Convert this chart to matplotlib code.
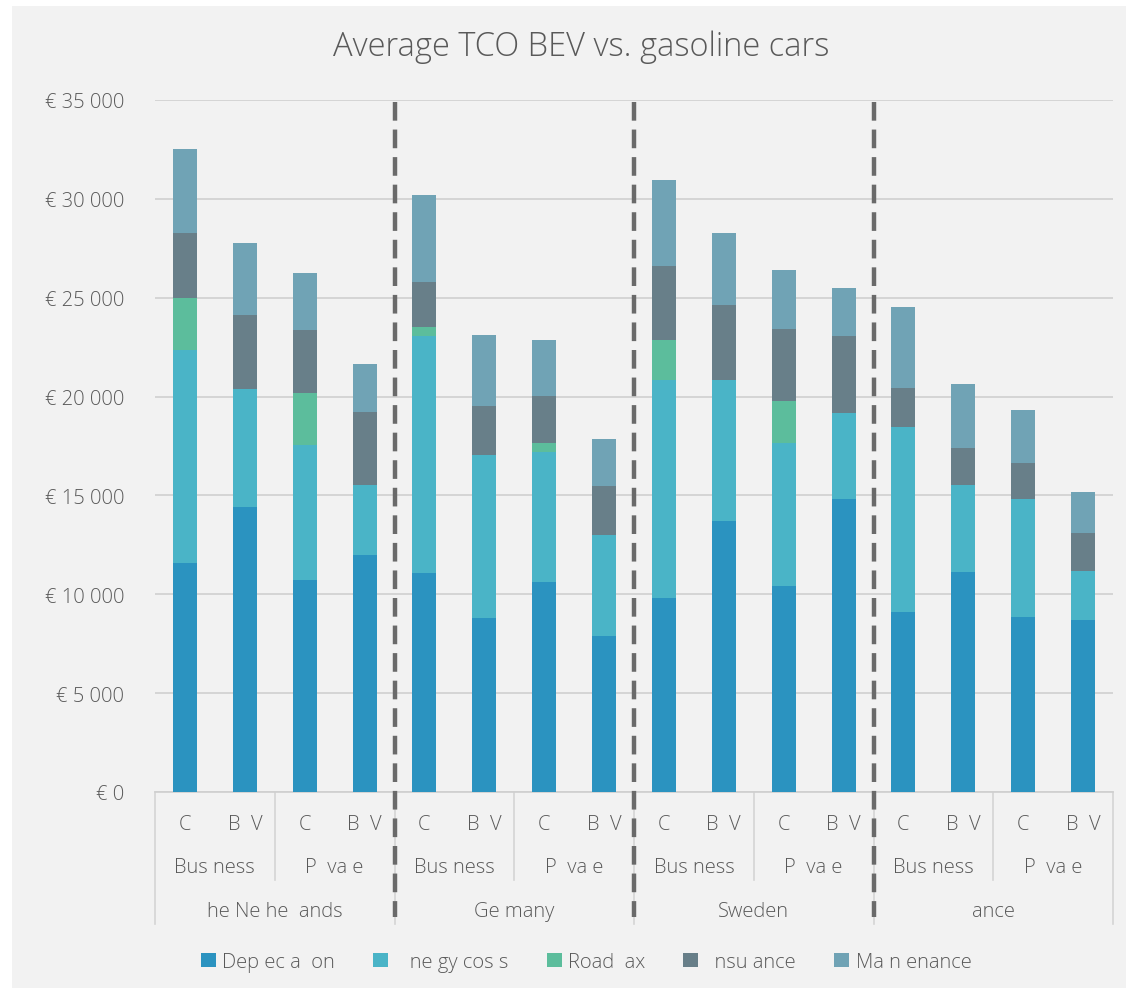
"""Average TCO BEV vs. gasoline cars: stacked bars per country / segment."""

import matplotlib

matplotlib.use("Agg")
import matplotlib.pyplot as plt  # noqa: E402
from matplotlib.patches import Patch, Rectangle  # noqa: E402

plt.rcParams["font.family"] = ["Open Sans", "DejaVu Sans"]
plt.rcParams["font.weight"] = "light"

# labels as they appear in the source picture (glyphs missing there)
countries = ["he Ne he  ands", "Ge many", "Sweden", "ance"]
segments = ["Bus ness", "P  va e"]
car_types = ["C", "B  V"]
components = ["Dep ec a  on", "   ne gy cos s", "Road  ax", "  nsu ance", "Ma n enance"]
colors = ["#2b93c0", "#4ab4c7", "#5cbd9c", "#687f89", "#70a3b5"]

# per bar: NL bus ICE, NL bus BEV, NL priv ICE, NL priv BEV, DE ..., SE ..., FR ...
depreciation = [11590, 14430, 10730, 12000, 11090, 8810, 10630, 7900,
                9820, 13720, 10430, 14840, 9110, 11140, 8860, 8710]
energy = [10790, 5970, 6840, 3540, 11950, 8250, 6590, 5110,
          11040, 7140, 7240, 4350, 9370, 4400, 5980, 2480]
road_tax = [2630, 0, 2630, 0, 500, 0, 450, 0,
            1980, 0, 2130, 0, 0, 0, 0, 0]
insurance = [3240, 3750, 3190, 3700, 2280, 2480, 2380, 2480,
             3740, 3750, 3640, 3850, 1930, 1880, 1820, 1920]
maintenance = [4260, 3600, 2840, 2430, 4360, 3550, 2790, 2380,
               4360, 3640, 2940, 2430, 4100, 3240, 2680, 2080]

yticks = [0, 5000, 10000, 15000, 20000, 25000, 30000, 35000]
ytick_labels = ["€ 0", "€ 5 000", "€ 10 000", "€ 15 000", "€ 20 000",
                "€ 25 000", "€ 30 000", "€ 35 000"]

txt = "#595959"
fs = 14.5
W, H = 1137, 995
fig = plt.figure(figsize=(W / 100, H / 100), dpi=100, facecolor="white")
fig.patches.append(Rectangle((12 / W, 6 / H), 1114 / W, 982 / H, transform=fig.transFigure,
                             facecolor="#f2f2f2", edgecolor="none", zorder=-10))

ax = fig.add_axes([155 / W, 1 - 793 / H, (1113 - 155) / W, (793 - 101) / H])
ax.patch.set_visible(False)

x = list(range(len(depreciation)))
bottom = [0] * len(x)
series = [depreciation, energy, road_tax, insurance, maintenance]
for vals, name, col in zip(series, components, colors):
    ax.bar(x, vals, width=0.4, bottom=bottom, color=col, label=name, zorder=3)
    bottom = [b + v for b, v in zip(bottom, vals)]

ax.set_xlim(-0.5, len(x) - 0.5)
ax.set_ylim(0, 35000)
ax.set_yticks(yticks)
ax.set_yticklabels(ytick_labels, color=txt, fontsize=fs)
ax.tick_params(axis="y", length=0, pad=22)
ax.set_xticks([])
ax.yaxis.grid(True, color="#d0d0d0", linewidth=1.2)
ax.set_axisbelow(True)
for s in ["top", "right", "left"]:
    ax.spines[s].set_visible(False)
ax.spines["bottom"].set_color("#cfcfcf")
ax.spines["bottom"].set_linewidth(1.2)

# multi-level category axis
px = 1 / (793 - 101)
tr = ax.get_xaxis_transform()
for i in x:
    ax.text(i, -32 * px, car_types[i % 2], transform=tr, ha="center", va="center",
            color=txt, fontsize=fs)
for j in range(len(x) // 2):
    ax.text(2 * j + 0.5, -75 * px, segments[j % 2], transform=tr, ha="center",
            va="center", color=txt, fontsize=fs)
for k, c in enumerate(countries):
    ax.text(4 * k + 1.5, -119 * px, c, transform=tr, ha="center", va="center",
            color=txt, fontsize=fs)

for b in range(0, len(x) + 1, 2):
    low = -132 * px if b % 4 == 0 else -88 * px
    ax.plot([b - 0.5, b - 0.5], [0, low], transform=tr, color="#d5d5d5",
            linewidth=1.2, clip_on=False, zorder=1)

# dashed country separators
for b in [4, 8, 12]:
    ax.plot([b - 0.5, b - 0.5], [0.997, -125 * px], transform=tr, color="#6a6a6a",
            linewidth=3.2, linestyle=(0, (4.2, 2.0)), clip_on=False, zorder=5)

fig.text(581 / W, 1 - 47 / H, "Average TCO BEV vs. gasoline cars", ha="center",
         va="center", color=txt, fontsize=23.5)

handles = [Patch(facecolor=c, edgecolor="none") for c in colors]
fig.legend(handles, components, loc="center", bbox_to_anchor=(586 / W, 1 - 963 / H),
           ncol=5, frameon=False, fontsize=fs, handlelength=0.75, handleheight=0.75,
           handletextpad=0.3, columnspacing=1.9, labelcolor=txt)

fig.savefig("out.png", dpi=100, facecolor=fig.get_facecolor())
